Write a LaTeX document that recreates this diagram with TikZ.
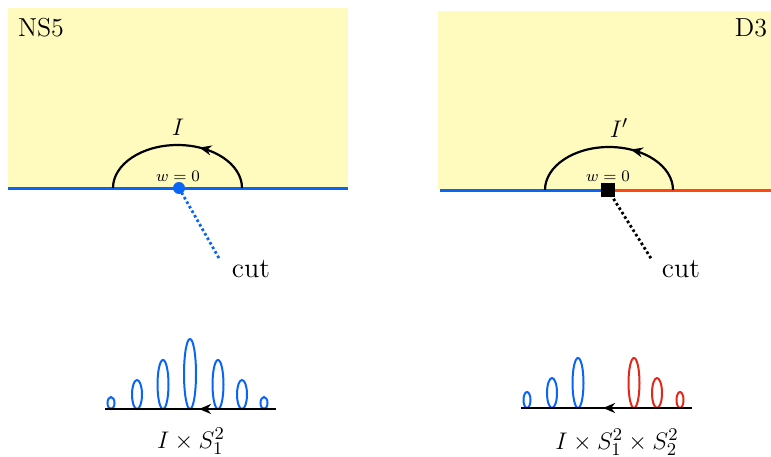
\documentclass[tikz,border=0pt]{standalone}
\usetikzlibrary{arrows.meta,decorations.markings}
\definecolor{sheet}{RGB}{255,250,190}
\definecolor{bl}{RGB}{10,100,245}
\definecolor{rl}{RGB}{255,70,20}
\definecolor{re}{RGB}{225,40,25}
\tikzset{
  x=0.5pt,y=0.5pt,
  brane/.style={line width=1.5pt},
  contour/.style={line width=1.1pt,postaction={decorate},
    decoration={markings,mark=at position 0.37 with {\arrow{Stealth[length=6pt,width=5pt]}}}},
  cutline/.style={line width=1.4pt,dash pattern=on 1.3pt off 1.3pt},
  lbl/.style={font=\fontsize{13}{15}\selectfont,inner sep=0pt},
  cutlbl/.style={font=\fontsize{14}{16}\selectfont,inner sep=0pt},
  small/.style={font=\fontsize{8.5}{10}\selectfont,inner sep=0pt},
  loop/.style={line width=1pt},
  axis/.style={line width=1.2pt,postaction={decorate},
    decoration={markings,mark=at position #1 with {\arrow{Stealth[length=6pt,width=5pt]}}}}
}
\begin{document}
\begin{tikzpicture}
\useasboundingbox (0,0) rectangle (771,456);
% ---------- left panel ----------
\fill[sheet] (8,268) rectangle (348,448);
\node[lbl] (ns5) at (41,428) {NS5};
\coordinate (L1) at (8,268);
\coordinate (L2) at (348,268);
\draw[brane,bl] (L1) -- (L2);
\coordinate (aLs) at (242,268);
\draw[contour] (aLs) arc[start angle=0,end angle=180,x radius=64.5,y radius=43];
\node[lbl] (I) at (178,329) {$I$};
\node[small] (w0L) at (178,280) {$w=0$};
\node[circle,fill=bl,minimum size=6pt,inner sep=0pt] (dotL) at (179,268) {};
\coordinate (cutLend) at (220,196);
\draw[cutline,bl] (dotL.center) -- (cutLend);
\node[cutlbl] (cutL) at (251,187) {cut};
% ---------- right panel ----------
\fill[sheet] (438,266) rectangle (771,445);
\node[lbl] (d3) at (751,428) {D3};
\coordinate (R1) at (440,266);
\coordinate (R2) at (771,266);
\node[fill=black,minimum size=7pt,inner sep=0pt] (sq) at (608,266) {};
\draw[brane,bl] (R1) -- (sq.center);
\draw[brane,rl] (sq.center) -- (R2);
\node[fill=black,minimum size=7pt,inner sep=0pt] at (608,266) {};
\coordinate (aRs) at (673,266);
\draw[contour] (aRs) arc[start angle=0,end angle=180,x radius=64,y radius=43];
\node[lbl] (Ip) at (619,328) {$I'$};
\node[small] (w0R) at (608,280) {$w=0$};
\coordinate (cutRend) at (652,196);
\draw[cutline,black] (sq.center) -- (cutRend);
\node[cutlbl] (cutR) at (681,187) {cut};
% ---------- bottom left ----------
\coordinate (BL1) at (276,47);
\coordinate (BL2) at (105,47);
\foreach \x/\h/\w in {111/12/3.5,137/29/5,163/49/5.5,190/70/6,218/49/5.5,242/29/5,264/12/3.5}
  \draw[loop,bl] (\x,47+\h/2) ellipse[x radius=\w,y radius=\h/2];
\draw[axis=0.45] (BL1) -- (BL2);
\node[lbl] (labL) at (191,15) {$I\times S_1^2$};
% ---------- bottom right ----------
\coordinate (BR1) at (692,48);
\coordinate (BR2) at (521,48);
\foreach \x/\h/\w in {527/16/3.5,552/30/5,578/50/5.5}
  \draw[loop,bl] (\x,48+\h/2) ellipse[x radius=\w,y radius=\h/2];
\foreach \x/\h/\w in {634/50/5.5,657/30/5,680/16/3.5}
  \draw[loop,re] (\x,48+\h/2) ellipse[x radius=\w,y radius=\h/2];
\draw[axis=0.52] (BR1) -- (BR2);
\node[lbl] (labR) at (617,14) {$I\times S_1^2\times S_2^2$};
\end{tikzpicture}
\end{document}
